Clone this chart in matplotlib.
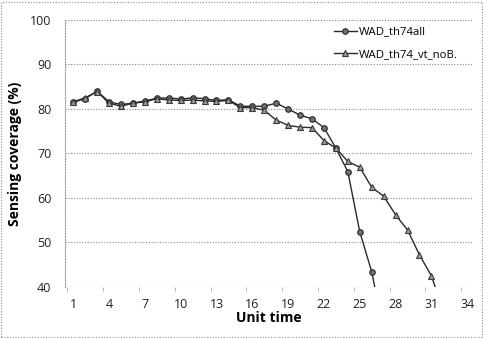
import matplotlib
matplotlib.use("Agg")
import matplotlib.pyplot as plt
from matplotlib.patches import Rectangle

# coverage per unit time
th74all = [81.5, 82.3, 84.0, 81.6, 81.0, 81.3, 81.8, 82.4, 82.5, 82.2, 82.5, 82.3,
           81.9, 82.1, 80.6, 80.6, 80.6, 81.3, 80.0, 78.6, 77.8, 75.8, 71.2, 65.9,
           52.4, 43.4, 30.0]
th74_vt_noB = [81.6, 82.5, 83.9, 81.3, 80.6, 81.3, 81.6, 82.3, 82.0, 81.9, 82.0, 81.8,
               81.7, 81.9, 80.3, 80.3, 79.7, 77.5, 76.3, 75.9, 75.8, 72.9, 71.2, 68.2,
               66.9, 62.4, 60.4, 56.2, 52.8, 47.2, 42.5, 34.5]
x_ticks = list(range(1, 35, 3))
y_ticks = [40, 50, 60, 70, 80, 90, 100]

plt.rcParams["font.family"] = ["Open Sans", "DejaVu Sans"]

fig = plt.figure(figsize=(4.83, 3.38), dpi=100)
ax = fig.add_axes([0.135, 0.151, 0.842, 0.790])

t1 = range(1, len(th74all) + 1)
t2 = range(1, len(th74_vt_noB) + 1)
ax.plot(t1, th74all, color="#2a2a2a", lw=1.0, marker="o", markersize=4,
        markerfacecolor="#707070", markeredgecolor="#2a2a2a", markeredgewidth=0.8,
        label="WAD_th74all", zorder=3)
ax.plot(t2, th74_vt_noB, color="#2a2a2a", lw=1.0, marker="^", markersize=4,
        markerfacecolor="#999999", markeredgecolor="#3a3a3a", markeredgewidth=0.8,
        label="WAD_th74_vt_noB.", zorder=3)

ax.set_xlim(0.33, 34.39)
ax.set_ylim(40, 100)
ax.set_yticks(y_ticks)
ax.set_xticks(x_ticks)
ax.set_xticks([0.5 + 3 * k for k in range(12)], minor=True)
ax.tick_params(axis="both", which="major", length=0, labelsize=9, colors="#222222")
ax.tick_params(axis="x", which="major", pad=8)
ax.tick_params(axis="y", which="major", pad=10)
ax.tick_params(axis="x", which="minor", length=3, color="#aaaaaa")

ax.grid(axis="y", linestyle=(0, (1, 1.5)), color="#888888", lw=0.8)
for s in ["top", "right", "bottom"]:
    ax.spines[s].set_visible(False)
ax.spines["left"].set_linestyle((0, (1, 1.5)))
ax.spines["left"].set_color("#999999")
ax.spines["left"].set_linewidth(0.8)

ax.set_ylabel("Sensing coverage (%)", fontsize=10, fontweight="bold", labelpad=6)
ax.set_xlabel("Unit time", fontsize=10, fontweight="bold", labelpad=0)

ax.legend(loc="upper right", bbox_to_anchor=(0.985, 1.005), frameon=False, fontsize=8.2,
          handlelength=2.0, handletextpad=0.2, labelspacing=1.0, borderaxespad=0.3)

fig.patches.append(Rectangle((0.003, 0.004), 0.994, 0.99, transform=fig.transFigure,
                             fill=False, linestyle=(0, (1, 1.5)), edgecolor="#888888", lw=0.8))

fig.savefig("out.png", dpi=100)
